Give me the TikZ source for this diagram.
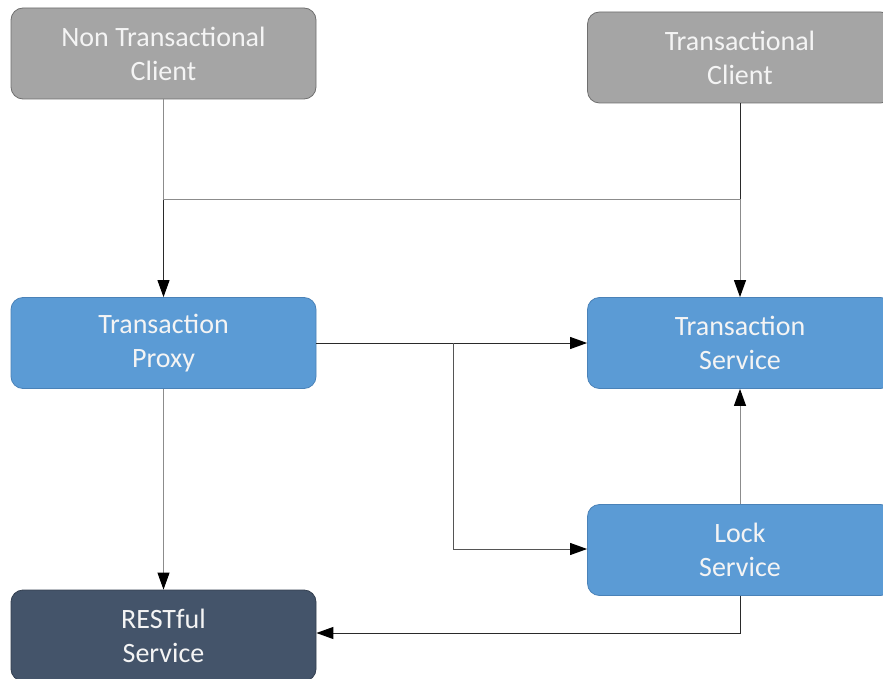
\documentclass[tikz,border=0pt]{standalone}
\usepackage{fontspec}
\setmainfont{Carlito}
\usetikzlibrary{arrows.meta}
\definecolor{clientfill}{HTML}{A5A5A5}
\definecolor{clientedge}{HTML}{6F6F6F}
\definecolor{svcfill}{HTML}{5B9BD5}
\definecolor{svcedge}{HTML}{4A82B8}
\definecolor{restfill}{HTML}{44546A}
\definecolor{restedge}{HTML}{333F50}
\definecolor{boxtext}{HTML}{F4F4F4}
\definecolor{wiregray}{HTML}{8C8C8C}
\definecolor{wiredark}{HTML}{2A2A2A}
\tikzset{
  box/.style={rectangle, rounded corners=12pt, minimum width=305pt, minimum height=91pt,
    inner sep=0pt, align=center, text=boxtext, line width=0.8pt,
    font=\fontsize{28}{34}\selectfont},
  clientbox/.style={box, fill=clientfill, draw=clientedge},
  svcbox/.style={box, fill=svcfill, draw=svcedge},
  restbox/.style={box, fill=restfill, draw=restedge},
  wire/.style={line width=1pt, draw=wiregray},
  darkwire/.style={line width=1pt, draw=wiredark},
  tip/.style={-{Triangle[length=17pt,width=12pt,fill=black,color=black]}}
}
\begin{document}
\begin{tikzpicture}[x=1pt,y=-1pt]
\useasboundingbox (0,0) rectangle (883,679);
\clip (0,0) rectangle (883,679);
\fill[white] (0,0) rectangle (883,679);

% boxes
\node[clientbox] (ntc) at (163.5,53.5) {Non Transactional\\Client};
\node[clientbox] (tc)  at (740,57.5)   {Transactional\\Client};
\node[svcbox]    (tp)  at (163.5,343)  {Transaction\\Proxy};
\node[svcbox]    (ts)  at (740,343)    {Transaction\\Service};
\node[svcbox]    (ls)  at (740,550)    {Lock\\Service};
\node[restbox]   (rs)  at (163.5,635.5) {RESTful\\Service};

% bend points
\coordinate (jl) at (163.5,200);
\coordinate (jr) at (740,200);
\coordinate (fork) at (453,343);
\coordinate (forkdown) at (453,549);
\coordinate (lsdown) at (740,633);

% client routes
\draw[darkwire,tip] (tc.south) -- (jr) -- (jl) -- (tp.north);
\draw[wire,tip] (ntc.south) -- (jl) -- (jr) -- (ts.north);

% proxy routes
\draw[darkwire,tip] (tp.east) -- (ts.west);
\draw[darkwire,draw=wiredark!80,tip] (fork) -- (forkdown) -- (ls.west |- forkdown);
\draw[wire,tip] (tp.south) -- (rs.north);

% lock service routes
\draw[wire,tip] (ls.north) -- (ts.south);
\draw[darkwire,tip] (ls.south) -- (lsdown) -- (rs.east |- lsdown);
\end{tikzpicture}
\end{document}
